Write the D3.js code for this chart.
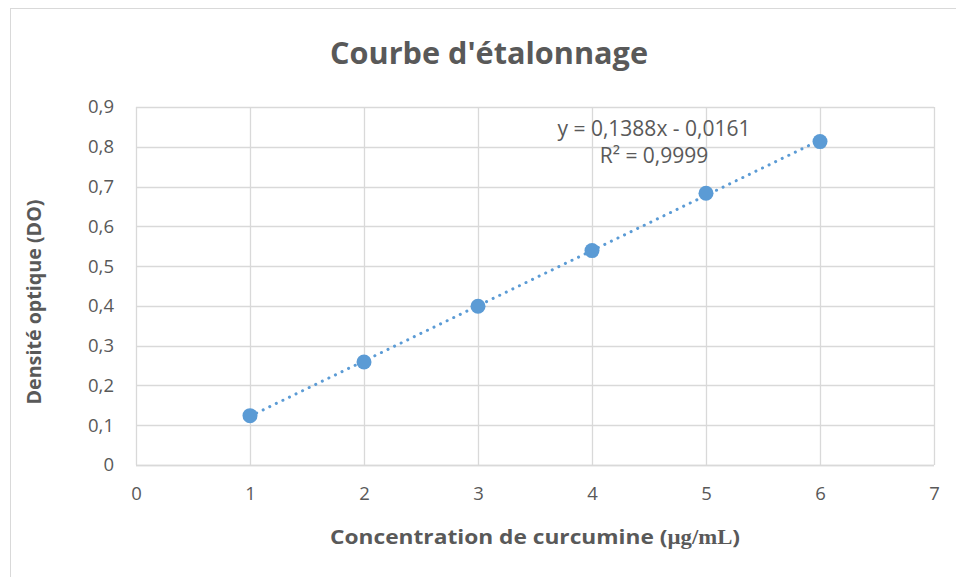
<!DOCTYPE html>
<html>
<head>
<meta charset="utf-8">
<script src="https://cdn.jsdelivr.net/npm/d3@7"></script>
<style>
  body { margin: 0; background: #fff; }
  text { font-family: "Open Sans", "Noto Sans", sans-serif; }
</style>
</head>
<body>
<div id="chart"></div>
<script>
// data
var concentrations = [1, 2, 3, 4, 5, 6];
var absorbances = [0.124, 0.259, 0.399, 0.539, 0.683, 0.813];
var xTicks = [0, 1, 2, 3, 4, 5, 6, 7];
var yTicks = [0, 0.1, 0.2, 0.3, 0.4, 0.5, 0.6, 0.7, 0.8, 0.9];
var slope = 0.1388;
var intercept = -0.0161;
var eqLines = ["y = 0,1388x - 0,0161", "R² = 0,9999"];

var W = 956, H = 577;
var margin = {top: 107, right: 22, bottom: 112, left: 136};
var innerW = W - margin.left - margin.right;
var innerH = H - margin.top - margin.bottom;
var grey = "#595959";
var blue = "#5b9bd5";

var svg = d3.select("#chart").append("svg")
    .attr("width", W)
    .attr("height", H);

// chart border
svg.append("rect")
    .attr("x", 10.5).attr("y", 8.5)
    .attr("width", W - 10).attr("height", H)
    .attr("fill", "none")
    .attr("stroke", "#d9d9d9");

var g = svg.append("g").attr("transform", `translate(${margin.left},${margin.top})`);

var xScale = d3.scaleLinear().domain([0, 7]).range([0, innerW]);
var yScale = d3.scaleLinear().domain([0, 0.9]).range([innerH, 0]);

var fmt = d => d3.format(".1f")(d).replace(".", ",");

// gridlines
g.append("g").selectAll("line").data(yTicks).join("line")
    .attr("x1", 0).attr("x2", innerW)
    .attr("y1", d => Math.round(yScale(d)) + 0.5)
    .attr("y2", d => Math.round(yScale(d)) + 0.5)
    .attr("stroke", "#d9d9d9").attr("stroke-width", 1.3);
g.append("g").selectAll("line").data(xTicks).join("line")
    .attr("y1", 0).attr("y2", innerH)
    .attr("x1", d => Math.round(xScale(d)) + 0.5)
    .attr("x2", d => Math.round(xScale(d)) + 0.5)
    .attr("stroke", "#d9d9d9").attr("stroke-width", 1.3);

// axes (labels only)
var xAxis = d3.axisBottom(xScale).tickValues(xTicks).tickSize(0).tickPadding(22)
    .tickFormat(d => String(d));
var xg = g.append("g").attr("transform", `translate(0,${innerH})`).call(xAxis);
var yAxis = d3.axisLeft(yScale).tickValues(yTicks).tickSize(0).tickPadding(22)
    .tickFormat(d => d === 0 ? "0" : fmt(d));
var yg = g.append("g").call(yAxis);
[xg, yg].forEach(a => {
  a.select(".domain").remove();
  a.selectAll("text")
    .attr("font-family", "'Open Sans', sans-serif")
    .attr("font-size", 18.5)
    .attr("fill", grey);
});
g.append("line")
    .attr("x1", 0).attr("x2", innerW)
    .attr("y1", innerH + 0.5).attr("y2", innerH + 0.5)
    .attr("stroke", "#d9d9d9").attr("stroke-width", 1.5);

// trendline over the data range
var tx = d3.extent(concentrations);
g.append("line")
    .attr("x1", xScale(tx[0])).attr("y1", yScale(slope * tx[0] + intercept))
    .attr("x2", xScale(tx[1])).attr("y2", yScale(slope * tx[1] + intercept))
    .attr("stroke", blue)
    .attr("stroke-width", 3)
    .attr("stroke-linecap", "round")
    .attr("stroke-dasharray", "0.1 7.2");

// points
g.selectAll("circle.pt").data(concentrations).join("circle")
    .attr("class", "pt")
    .attr("cx", d => xScale(d))
    .attr("cy", (d, i) => yScale(absorbances[i]))
    .attr("r", 7.5)
    .attr("fill", blue);

// equation label
g.selectAll("text.eq").data(eqLines).join("text")
    .attr("class", "eq")
    .attr("x", 518)
    .attr("y", (d, i) => 29 + i * 27)
    .attr("text-anchor", "middle")
    .attr("font-size", 21)
    .attr("fill", grey)
    .text(d => d);

// title
svg.append("text")
    .attr("x", 489).attr("y", 64)
    .attr("text-anchor", "middle")
    .attr("font-size", 31)
    .attr("font-weight", "bold")
    .attr("fill", grey)
    .attr("textLength", 318)
    .attr("lengthAdjust", "spacingAndGlyphs")
    .text("Courbe d'étalonnage");

// axis titles
var xt = svg.append("text")
    .attr("x", 535).attr("y", 544)
    .attr("text-anchor", "middle")
    .attr("font-size", 20)
    .attr("font-weight", "bold")
    .attr("fill", grey)
    .attr("textLength", 410)
    .attr("lengthAdjust", "spacingAndGlyphs");
xt.append("tspan").text("Concentration de curcumine (");
xt.append("tspan").attr("font-family", "'Liberation Serif', serif").text("µg/mL");
xt.append("tspan").text(")");

svg.append("text")
    .attr("transform", "translate(41,302) rotate(-90)")
    .attr("text-anchor", "middle")
    .attr("font-size", 20)
    .attr("font-weight", "bold")
    .attr("fill", grey)
    .attr("textLength", 205)
    .attr("lengthAdjust", "spacingAndGlyphs")
    .text("Densité optique (DO)");
</script>
</body>
</html>
